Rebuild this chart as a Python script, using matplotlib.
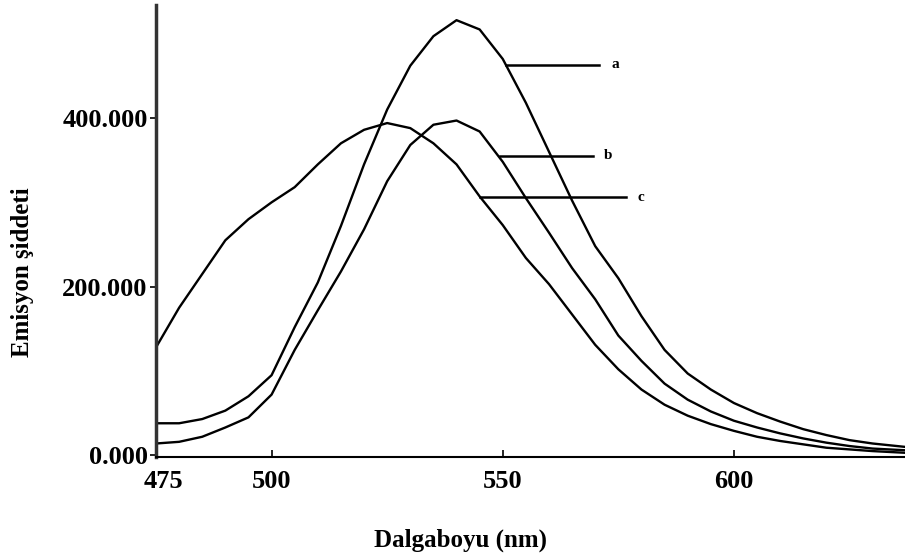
import matplotlib
matplotlib.use("Agg")
import matplotlib.pyplot as plt
import matplotlib.transforms as mtransforms

# ---- data ----
wavelength = [475, 480, 485, 490, 495, 500, 505, 510, 515, 520, 525, 530, 535,
              540, 545, 550, 555, 560, 565, 570, 575, 580, 585, 590, 595, 600,
              605, 610, 615, 620, 625, 630, 637]
curve_a = [38, 38, 43, 53, 70, 95, 152, 205, 272, 345, 410, 462, 497,
           516, 505, 470, 418, 360, 302, 248, 210, 165, 125, 97, 78, 62,
           50, 40, 31, 24, 18, 14, 10]
curve_b = [14, 16, 22, 33, 45, 72, 125, 172, 218, 268, 325, 368, 392,
           397, 384, 348, 305, 264, 222, 185, 142, 112, 85, 66, 52, 41,
           33, 26, 20, 15, 11, 8, 6]
curve_c = [128, 175, 215, 255, 280, 300, 318, 345, 370, 386, 394, 388, 370,
           345, 307, 273, 234, 203, 167, 131, 102, 78, 60, 47, 37, 29,
           22, 17, 13, 9, 7, 5, 3]

series_labels = ["a", "b", "c"]
# annotation leader lines: (x_start, x_end, y, label_x)
leader_a = (550.6, 570.9, 463, 573.6)
leader_b = (549.4, 569.6, 355, 571.8)
leader_c = (545.0, 576.7, 306, 579.1)

x_ticks = [475, 500, 550, 600]
x_tick_labels = ["475", "500", "550", "600"]
y_ticks = [0, 200, 400]
y_tick_labels = ["0.000", "200.000", "400.000"]

plt.rcParams['font.family'] = ['Liberation Serif', 'DejaVu Serif']

W, H = 905, 558
fig = plt.figure(figsize=(W / 100, H / 100), dpi=100)
ax = fig.add_axes([156 / W, 1 - 457 / H, 1 - 156 / W, (457 - 5) / H])

for vals in (curve_a, curve_b, curve_c):
    ax.plot(wavelength, vals, color="black", lw=1.7, solid_joinstyle="round")

for (x0, x1, y, lx), lab in zip((leader_a, leader_b, leader_c), series_labels):
    ax.plot([x0, x1], [y, y], color="black", lw=1.8)
    ax.text(lx, y, lab, fontsize=11, fontweight="bold", va="center", ha="left")

ax.set_xlim(475, 637)
ax.set_ylim(-2, 534)
ax.set_xticks(x_ticks)
ax.set_xticklabels(x_tick_labels)
ax.set_yticks(y_ticks)
ax.set_yticklabels(y_tick_labels)
ax.tick_params(axis="x", direction="in", length=5, width=1.2, labelsize=19, pad=9)
ax.tick_params(axis="y", direction="out", length=4, width=1.2, labelsize=19, pad=2)
for lab in ax.get_xticklabels() + ax.get_yticklabels():
    lab.set_fontweight("bold")
# first x label sits slightly right of the axis corner, as in the reference
first = ax.get_xticklabels()[0]
first.set_transform(first.get_transform() +
                    mtransforms.ScaledTranslation(7 / 100, 0, fig.dpi_scale_trans))

ax.spines["top"].set_visible(False)
ax.spines["right"].set_visible(False)
ax.spines["left"].set_linewidth(2.5)
ax.spines["left"].set_color("#333333")
ax.spines["bottom"].set_linewidth(1.5)

fig.text(460 / W, 1 - 540 / H, "Dalgaboyu (nm)", fontsize=18, fontweight="bold",
         ha="center", va="center")
fig.text(23 / W, 1 - 272 / H, "Emisyon şiddeti", fontsize=18, fontweight="bold",
         ha="center", va="center", rotation=90)

fig.savefig("out.png", dpi=100)
